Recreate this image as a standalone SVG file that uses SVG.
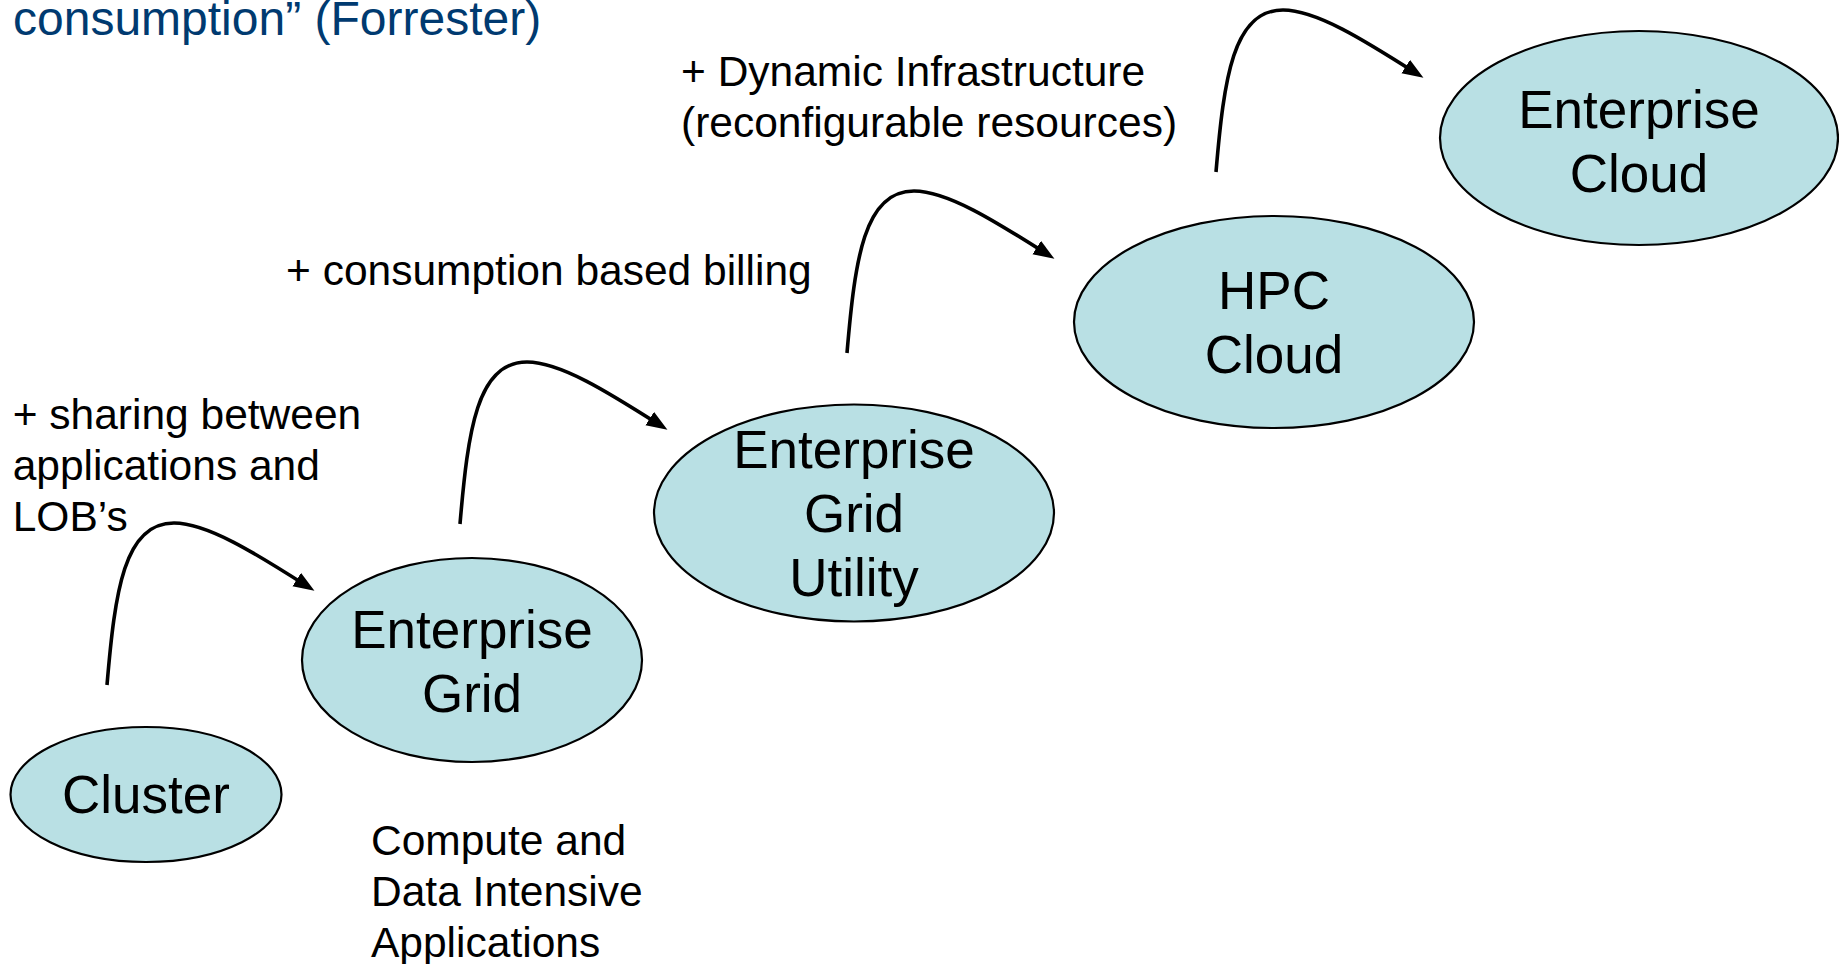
<svg xmlns="http://www.w3.org/2000/svg" width="1839" height="964" viewBox="0 0 1839 964">
  <style>
    .node { fill: #b9e0e4; stroke: #000; stroke-width: 2.2; }
    .nlabel { font-family: "Liberation Sans", Arial, sans-serif; font-size: 53px; fill: #000; text-anchor: middle; }
    .note { font-family: "Liberation Sans", Arial, sans-serif; font-size: 42.5px; fill: #000; }
    .title { font-family: "Liberation Sans", Arial, sans-serif; font-size: 48px; fill: #003a70; }
    .step { fill: none; stroke: #000; stroke-width: 3.6; marker-end: url(#head); }
  </style>
  <defs>
    <marker id="head" markerUnits="userSpaceOnUse" markerWidth="22" markerHeight="18" refX="11" refY="8" orient="auto">
      <path d="M0,0 L21,8 L0,16 z" fill="#000"/>
    </marker>
    <!-- one step curve: rises from its foot, bends over, lands on the next stage -->
    <path id="stepCurve" d="M0,0 C8,-94 17,-162 67,-162 C100,-162 148,-132 199,-99.5"/>
  </defs>

  <rect width="1839" height="964" fill="#fff"/>

  <text class="title" x="13" y="35">consumption” (Forrester)</text>

  <g id="connectors">
    <use href="#stepCurve" class="step" transform="translate(107,685)"/>
    <use href="#stepCurve" class="step" transform="translate(460,524)"/>
    <use href="#stepCurve" class="step" transform="translate(847,353)"/>
    <use href="#stepCurve" class="step" transform="translate(1216,172)"/>
  </g>

  <g id="cluster">
    <ellipse class="node" cx="146" cy="794.5" rx="135.5" ry="67.5"/>
    <text class="nlabel" x="146" y="813">Cluster</text>
  </g>

  <g id="enterprise-grid">
    <ellipse class="node" cx="472" cy="660" rx="170" ry="102"/>
    <text class="nlabel" x="472" y="648">Enterprise</text>
    <text class="nlabel" x="472" y="711.6">Grid</text>
  </g>

  <g id="enterprise-grid-utility">
    <ellipse class="node" cx="854" cy="513" rx="200" ry="108.5"/>
    <text class="nlabel" x="854" y="468.4">Enterprise</text>
    <text class="nlabel" x="854" y="532">Grid</text>
    <text class="nlabel" x="854" y="595.6">Utility</text>
  </g>

  <g id="hpc-cloud">
    <ellipse class="node" cx="1274" cy="322" rx="200" ry="106"/>
    <text class="nlabel" x="1274" y="309.2">HPC</text>
    <text class="nlabel" x="1274" y="372.8">Cloud</text>
  </g>

  <g id="enterprise-cloud">
    <ellipse class="node" cx="1639" cy="138" rx="199" ry="107"/>
    <text class="nlabel" x="1639" y="128">Enterprise</text>
    <text class="nlabel" x="1639" y="191.6">Cloud</text>
  </g>

  <g id="notes">
    <text class="note" x="12.7" y="429">+ sharing between</text>
    <text class="note" x="12.7" y="480">applications and</text>
    <text class="note" x="12.7" y="531">LOB’s</text>

    <text class="note" x="286" y="285">+ consumption based billing</text>

    <text class="note" x="681" y="86">+ Dynamic Infrastructure</text>
    <text class="note" x="681" y="137">(reconfigurable resources)</text>

    <text class="note" x="371" y="855">Compute and</text>
    <text class="note" x="371" y="906">Data Intensive</text>
    <text class="note" x="371" y="957">Applications</text>
  </g>
</svg>
